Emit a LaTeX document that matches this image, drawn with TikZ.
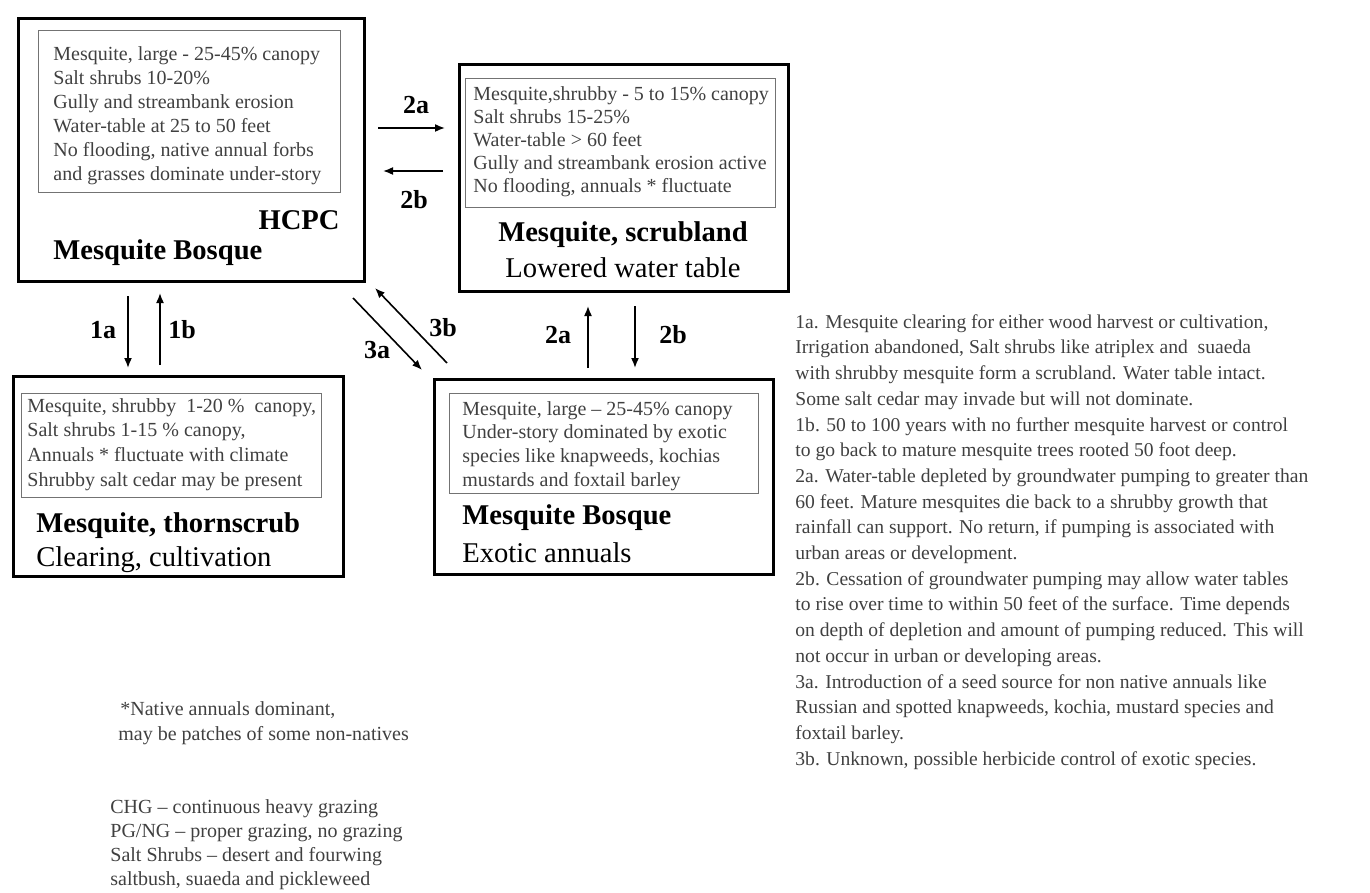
\documentclass[tikz,border=0pt]{standalone}
\usepackage{fontspec}
\setmainfont{Liberation Serif}
\usetikzlibrary{arrows.meta}
\tikzset{
  statebox/.style={draw, line width=1.5pt, anchor=north west, inner sep=0pt},
  factbox/.style={draw=black!55, line width=0.7pt, anchor=north west, inner sep=0pt},
  facts/.style={anchor=north west, align=left, inner sep=0pt, text=black!75},
  statename/.style={font=\fontsize{14.3}{16}\selectfont\bfseries, inner sep=0pt},
  statecause/.style={font=\fontsize{14.3}{16}\selectfont, inner sep=0pt},
  pathname/.style={font=\fontsize{13}{15}\selectfont\bfseries, inner sep=0pt},
  transition/.style={-{Latex[length=5pt,width=4pt]}, line width=0.8pt}
}
\begin{document}
\begin{tikzpicture}[x=0.5pt,y=-0.5pt]
      \useasboundingbox (0,0) rectangle (1370,893);
      % states
      \node[statebox, minimum width=173pt, minimum height=131.5pt] (hcpc) at (17,17) {};
      \node[statebox, minimum width=164.5pt, minimum height=113.5pt] (scrub) at (458,63) {};
      \node[statebox, minimum width=165pt, minimum height=100pt] (thorn) at (12,375) {};
      \node[statebox, minimum width=169.5pt, minimum height=97.5pt] (exotic) at (433,378) {};
      \node[factbox, minimum width=151pt, minimum height=81pt] (hcpcbox) at (38,30) {};
      \node[factbox, minimum width=155pt, minimum height=64.5pt] (scrubbox) at (465,78) {};
      \node[factbox, minimum width=150pt, minimum height=52pt] (thornbox) at (21,393) {};
      \node[factbox, minimum width=154.5pt, minimum height=50pt] (exoticbox) at (449,393) {};
      \node[facts, font=\fontsize{10}{12}\selectfont] (hcpcfacts) at (53,46)
        {Mesquite, large - 25-45\% canopy\\Salt shrubs 10-20\%\\Gully and streambank erosion\\Water-table at 25 to 50 feet\\No flooding, native annual forbs\\and grasses dominate under-story};
      \node[facts, font=\fontsize{10}{11.5}\selectfont] (scrubfacts) at (473,86)
        {Mesquite,shrubby - 5 to 15\% canopy\\Salt shrubs 15-25\%\\Water-table > 60 feet\\Gully and streambank erosion active\\No flooding, annuals * fluctuate};
      \node[facts, font=\fontsize{10}{12.3}\selectfont] (thornfacts) at (27,398)
        {Mesquite, shrubby\ \ 1-20 \%\ \ canopy,\\Salt shrubs 1-15 \% canopy,\\Annuals * fluctuate with climate\\Shrubby salt cedar may be present};
      \node[facts, font=\fontsize{10}{11.8}\selectfont] (exoticfacts) at (462,401)
        {Mesquite, large -- 25-45\% canopy\\Under-story dominated by exotic\\species like knapweeds, kochias\\mustards and foxtail barley};
      \node[statename, anchor=east] (hcpctag) at (340,220) {HCPC};
      \node[statename, anchor=west] (hcpcname) at (53,253) {Mesquite Bosque};
      \node[statename] (scrubname) at (623,235) {Mesquite, scrubland};
      \node[statecause] (scrubcause) at (623,268) {Lowered water table};
      \node[statename, anchor=west] (thornname) at (36,526) {Mesquite, thornscrub};
      \node[statecause, anchor=west] (thorncause) at (36,560) {Clearing, cultivation};
      \node[statename, anchor=west] (exoticname) at (462,518) {Mesquite Bosque};
      \node[statecause, anchor=west] (exoticcause) at (462,553) {Exotic annuals};
      % transitions
      \begin{scope}[transition]
        \draw[shorten <=6.5pt, shorten >=3.5pt] (hcpc.south -| 128,0) to (thorn.north -| 128,0);
        \draw[shorten <=5pt, shorten >=5pt] (thorn.north -| 160,0) to (hcpc.south -| 160,0);
        \draw[shorten <=6pt, shorten >=6.5pt] (hcpc.east |- 0,128) to (scrub.west |- 0,128);
        \draw[shorten <=7.5pt, shorten >=8.5pt] (scrub.west |- 0,171) to (hcpc.east |- 0,171);
        \draw[shorten <=5pt, shorten >=6.5pt] (exotic.north -| 588,0) to (scrub.south -| 588,0);
        \draw[shorten <=6.5pt, shorten >=5pt] (scrub.south -| 635,0) to (exotic.north -| 635,0);
        \draw ([xshift=-6.5pt,yshift=-7.5pt]hcpc.south east) to ([xshift=-5.5pt,yshift=4pt]exotic.north west);
        \draw ([xshift=7pt,yshift=7.5pt]exotic.north west) to ([xshift=4.5pt,yshift=-2.5pt]hcpc.south east);
      \end{scope}
      \node[pathname] (t1a) at (103,330) {1a};
      \node[pathname] (t1b) at (182,330) {1b};
      \node[pathname] (t2a) at (416,105) {2a};
      \node[pathname] (t2b) at (414,200) {2b};
      \node[pathname] (t2aup) at (558,335) {2a};
      \node[pathname] (t2bdown) at (673,335) {2b};
      \node[pathname] (t3a) at (377,350) {3a};
      \node[pathname] (t3b) at (443,328) {3b};
      % notes
      \node[facts, font=\fontsize{9.8}{12.85}\selectfont] (paths) at (795,314)
        {1a. Mesquite clearing for either wood harvest or cultivation,\\
         Irrigation abandoned, Salt shrubs like atriplex and\ \ suaeda\\
         with shrubby mesquite form a scrubland. Water table intact.\\
         Some salt cedar may invade but will not dominate.\\
         1b. 50 to 100 years with no further mesquite harvest or control\\
         to go back to mature mesquite trees rooted 50 foot deep.\\
         2a. Water-table depleted by groundwater pumping to greater than\\
         60 feet. Mature mesquites die back to a shrubby growth that\\
         rainfall can support. No return, if pumping is associated with\\
         urban areas or development.\\
         2b. Cessation of groundwater pumping may allow water tables\\
         to rise over time to within 50 feet of the surface. Time depends\\
         on depth of depletion and amount of pumping reduced. This will\\
         not occur in urban or developing areas.\\
         3a. Introduction of a seed source for non native annuals like\\
         Russian and spotted knapweeds, kochia, mustard species and\\
         foxtail barley.\\
         3b. Unknown, possible herbicide control of exotic species.};
      \node[facts, font=\fontsize{10}{12.5}\selectfont] (star) at (118,701)
        {\hspace{1pt}*Native annuals dominant,\\may be patches of some non-natives};
      \node[facts, font=\fontsize{10}{12}\selectfont] (terms) at (110,799)
        {CHG -- continuous heavy grazing\\PG/NG -- proper grazing, no grazing\\Salt Shrubs -- desert and fourwing\\saltbush, suaeda and pickleweed};
    \end{tikzpicture}
\end{document}
